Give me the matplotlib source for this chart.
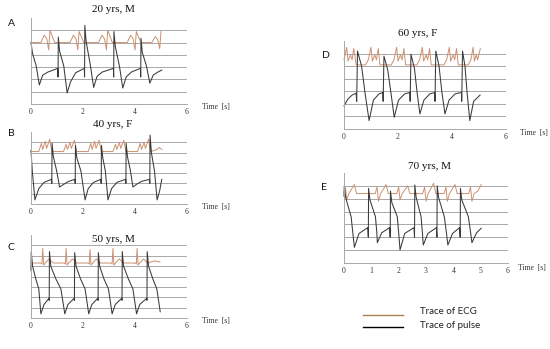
import matplotlib.pyplot as plt

# ---- data (time in s, amplitude in grid units) ----

# A: 20 yrs, M
a_ecg_t = [0.00, 0.38, 0.51, 0.61, 0.68, 0.73, 0.91,
           1.50, 1.63, 1.73, 1.80, 1.85, 2.03,
           2.60, 2.73, 2.83, 2.90, 2.95, 3.13,
           3.70, 3.83, 3.93, 4.00, 4.05, 4.23,
           4.65, 4.78, 4.88, 4.95, 5.00]
a_ecg_y = [5.00, 5.00, 5.60, 5.30, 4.40, 6.00, 5.00,
           5.00, 5.60, 5.30, 4.40, 5.90, 5.00,
           5.00, 5.60, 5.30, 4.40, 6.00, 5.00,
           5.00, 5.60, 5.30, 4.40, 5.90, 5.00,
           5.00, 5.50, 5.20, 4.50, 5.90]
a_pulse_t = [0.00, 0.06, 0.20, 0.32, 0.45, 0.65, 1.03,
             1.04, 1.05, 1.10, 1.26, 1.39, 1.52, 1.72, 2.05,
             2.06, 2.07, 2.12, 2.28, 2.41, 2.54, 2.74, 3.17,
             3.18, 3.19, 3.24, 3.40, 3.53, 3.66, 3.86, 4.21,
             4.22, 4.23, 4.28, 4.44, 4.57, 4.70, 4.88, 5.03]
a_pulse_y = [5.00, 4.10, 3.10, 1.55, 2.35, 2.60, 2.90,
             2.20, 5.45, 4.30, 3.10, 0.90, 1.80, 2.55, 2.90,
             2.20, 6.40, 5.10, 3.20, 1.35, 2.25, 2.60, 2.90,
             2.20, 5.90, 4.70, 3.10, 1.30, 2.20, 2.60, 2.90,
             2.20, 5.35, 4.20, 3.10, 1.70, 2.35, 2.60, 2.76]

# B: 40 yrs, F
b_ecg_t = [0.00, 0.30, 0.40, 0.45, 0.55, 0.60, 0.72, 0.80,
           1.25, 1.35, 1.40, 1.50, 1.55, 1.67, 1.75,
           2.20, 2.30, 2.35, 2.45, 2.50, 2.62, 2.70,
           3.15, 3.25, 3.30, 3.40, 3.45, 3.57, 3.65,
           4.10, 4.20, 4.25, 4.35, 4.40, 4.52, 4.60,
           4.85, 4.92, 5.04]
b_ecg_y = [5.10, 5.10, 5.90, 5.30, 6.10, 5.40, 6.30, 5.10,
           5.10, 5.80, 5.30, 6.00, 5.40, 6.20, 5.10,
           5.10, 5.90, 5.30, 6.10, 5.40, 6.20, 5.10,
           5.10, 5.80, 5.30, 6.00, 5.40, 6.20, 5.10,
           5.10, 5.90, 5.30, 6.00, 5.40, 6.30, 5.10,
           5.30, 5.50, 5.30]
b_pulse_t = [0.00, 0.05, 0.15, 0.30, 0.50, 0.79,
             0.80, 0.81, 0.86, 0.98, 1.10, 1.25, 1.45, 1.69,
             1.70, 1.71, 1.76, 1.92, 2.08, 2.20, 2.40, 2.69,
             2.70, 2.71, 2.76, 2.86, 2.96, 3.10, 3.30, 3.64,
             3.65, 3.66, 3.71, 3.82, 3.92, 4.05, 4.25, 4.56,
             4.57, 4.58, 4.63, 4.75, 4.85, 4.95, 5.03]
b_pulse_y = [5.20, 3.20, 0.40, 1.50, 2.10, 2.40,
             2.00, 5.90, 4.60, 3.30, 1.65, 1.90, 2.20, 2.40,
             2.00, 5.70, 4.50, 3.20, 0.40, 1.50, 2.10, 2.40,
             2.00, 5.70, 4.50, 3.20, 0.40, 1.50, 2.10, 2.40,
             2.00, 5.90, 4.60, 3.30, 1.65, 1.90, 2.20, 2.40,
             2.00, 6.70, 5.00, 3.20, 0.40, 1.30, 2.40]

# C: 50 yrs, M
c_ecg_t = [0.00, 0.37, 0.42, 0.45, 0.49, 0.55, 0.70, 0.85,
           1.27, 1.32, 1.35, 1.39, 1.45, 1.60, 1.75,
           2.19, 2.24, 2.27, 2.31, 2.37, 2.52, 2.67,
           3.07, 3.12, 3.15, 3.19, 3.25, 3.40, 3.55,
           4.00, 4.05, 4.08, 4.12, 4.18, 4.33, 4.48,
           4.75, 4.96]
c_ecg_y = [5.30, 5.30, 5.20, 6.70, 5.10, 5.30, 5.70, 5.30,
           5.30, 5.20, 6.70, 5.10, 5.30, 5.70, 5.30,
           5.30, 5.20, 6.60, 5.10, 5.30, 5.70, 5.30,
           5.30, 5.20, 6.70, 5.10, 5.30, 5.70, 5.30,
           5.30, 5.20, 6.70, 5.10, 5.30, 5.70, 5.30,
           5.50, 5.40]
c_pulse_t = [0.00, 0.01, 0.06, 0.18, 0.30, 0.38, 0.50, 0.69,
             0.70, 0.71, 0.76, 0.95, 1.15, 1.30, 1.42, 1.66,
             1.67, 1.68, 1.73, 1.90, 2.08, 2.22, 2.34, 2.57,
             2.58, 2.59, 2.64, 2.80, 2.98, 3.12, 3.24, 3.49,
             3.50, 3.51, 3.56, 3.74, 3.92, 4.06, 4.18, 4.45,
             4.46, 4.47, 4.52, 4.68, 4.84, 4.97]
c_pulse_y = [4.60, 6.40, 5.00, 3.80, 2.80, 0.40, 1.30, 1.90,
             1.70, 6.40, 5.00, 3.80, 2.80, 0.40, 1.30, 1.90,
             1.70, 6.30, 5.00, 3.80, 2.80, 0.40, 1.30, 1.90,
             1.70, 6.30, 5.00, 3.80, 2.80, 0.40, 1.30, 1.90,
             1.70, 6.40, 5.00, 3.80, 2.80, 0.40, 1.30, 1.90,
             1.70, 6.40, 5.00, 3.80, 2.80, 0.60]

# D: 60 yrs, F
d_ecg_t = [0.00, 0.10, 0.15, 0.24, 0.30, 0.36, 0.45, 0.80,
           0.90, 1.00, 1.05, 1.14, 1.20, 1.27, 1.33, 1.75,
           1.85, 1.95, 2.00, 2.09, 2.15, 2.22, 2.28, 2.70,
           2.80, 2.90, 2.95, 3.04, 3.10, 3.17, 3.23, 3.70,
           3.80, 3.90, 3.95, 4.04, 4.10, 4.17, 4.23, 4.60,
           4.70, 4.78, 4.83, 4.90, 4.95, 5.05]
d_ecg_y = [5.50, 6.50, 5.40, 5.90, 5.50, 6.40, 5.10, 5.10,
           5.50, 6.50, 5.40, 5.90, 5.50, 6.40, 5.10, 5.10,
           5.50, 6.50, 5.40, 5.90, 5.50, 6.40, 5.10, 5.10,
           5.50, 6.50, 5.40, 5.90, 5.50, 6.40, 5.10, 5.10,
           5.50, 6.50, 5.40, 5.90, 5.50, 6.40, 5.10, 5.10,
           5.50, 6.50, 5.40, 5.90, 5.50, 6.40]
d_pulse_t = [0.00, 0.15, 0.30, 0.45, 0.47, 0.50, 0.65, 0.78, 0.93, 1.09, 1.30, 1.44,
             1.45, 1.48, 1.62, 1.74, 1.86, 2.02, 2.25, 2.44,
             2.45, 2.48, 2.61, 2.71, 2.81, 2.96, 3.18, 3.36,
             3.37, 3.40, 3.52, 3.63, 3.74, 3.89, 4.12, 4.35,
             4.36, 4.39, 4.48, 4.56, 4.66, 4.80, 5.04]
d_pulse_y = [1.84, 2.40, 2.70, 2.85, 2.20, 6.20, 5.00, 2.85, 0.67, 2.30, 2.80, 2.90,
             2.20, 5.80, 4.70, 2.85, 0.93, 2.30, 2.80, 2.90,
             2.20, 5.95, 4.80, 2.85, 1.20, 2.30, 2.80, 2.90,
             2.20, 6.20, 5.00, 2.85, 1.20, 2.30, 2.80, 2.90,
             2.20, 6.20, 5.00, 2.85, 0.67, 2.20, 2.70]

# E: 70 yrs, M
e_ecg_t = [0.00, 0.05, 0.10, 0.18, 0.38, 0.46,
           1.14, 1.21, 1.26, 1.34, 1.54, 1.62,
           1.93, 2.00, 2.05, 2.13, 2.33, 2.41,
           2.88, 2.95, 3.00, 3.08, 3.28, 3.36,
           3.66, 3.73, 3.78, 3.86, 4.06, 4.14,
           4.56, 4.63, 4.68, 4.76, 4.90, 5.02]
e_ecg_y = [5.50, 5.90, 4.90, 5.40, 6.10, 5.40,
           5.40, 5.90, 4.80, 5.40, 6.10, 5.40,
           5.40, 5.90, 4.90, 5.40, 6.00, 5.40,
           5.40, 5.90, 4.80, 5.40, 6.20, 5.40,
           5.40, 5.90, 4.80, 5.40, 6.10, 5.40,
           5.40, 5.90, 4.80, 5.40, 5.60, 6.10]
e_pulse_t = [0.00, 0.01, 0.06, 0.26, 0.33, 0.38, 0.55, 0.87,
             0.89, 0.90, 0.95, 1.15, 1.20, 1.22, 1.38, 1.67,
             1.69, 1.70, 1.75, 1.95, 2.01, 2.05, 2.22, 2.56,
             2.58, 2.59, 2.64, 2.82, 2.87, 2.90, 3.07, 3.38,
             3.40, 3.41, 3.46, 3.67, 3.75, 3.80, 3.97, 4.23,
             4.25, 4.26, 4.31, 4.55, 4.63, 4.68, 4.85, 5.02]
e_pulse_y = [5.20, 6.00, 5.10, 3.60, 2.20, 1.22, 2.30, 2.75,
             2.00, 5.80, 4.90, 3.60, 2.40, 1.58, 2.35, 2.75,
             2.00, 5.60, 4.70, 3.60, 2.10, 1.01, 2.30, 2.75,
             2.00, 6.07, 5.10, 3.60, 2.30, 1.40, 2.30, 2.75,
             2.00, 6.00, 5.10, 3.60, 2.30, 1.40, 2.30, 2.75,
             2.00, 5.80, 4.90, 3.60, 2.40, 1.58, 2.35, 2.70]

titles = ['20 yrs, M', '40 yrs, F', '50 yrs, M', '60 yrs, F', '70 yrs, M']
letters = ['A', 'B', 'C', 'D', 'E']
legend_labels = ['Trace of ECG', 'Trace of pulse']

ECG_COLOR = '#cc9170'
PULSE_COLOR = '#3a3a3a'
GRID_COLOR = '#a8a8a8'
SERIF = 'Liberation Serif'
SANS = 'Lato'

W, H = 550, 349
fig = plt.figure(figsize=(5.5, 3.49), dpi=100)


def fx(x):
    return x / W


def fy(y):
    return 1 - y / H


# panel boxes in pixels: left, top, right, bottom
panels = [
    dict(box=(31, 18, 187, 104), ymax=7, xt=[0, 2, 4, 6], ecg=(a_ecg_t, a_ecg_y),
         pulse=(a_pulse_t, a_pulse_y), title_xy=(113, 10), letter_xy=(8, 23), time_xy=(202, 107)),
    dict(box=(31, 132, 187, 204), ymax=7, xt=[0, 2, 4, 6], ecg=(b_ecg_t, b_ecg_y),
         pulse=(b_pulse_t, b_pulse_y), title_xy=(113, 125), letter_xy=(8, 133), time_xy=(202, 207)),
    dict(box=(31, 235, 187, 318), ymax=8, xt=[0, 2, 4, 6], ecg=(c_ecg_t, c_ecg_y),
         pulse=(c_pulse_t, c_pulse_y), title_xy=(113, 239), letter_xy=(8, 248), time_xy=(202, 321)),
    dict(box=(344, 41, 506, 129), ymax=7, xt=[0, 2, 4, 6], ecg=(d_ecg_t, d_ecg_y),
         pulse=(d_pulse_t, d_pulse_y), title_xy=(418, 34), letter_xy=(322, 55), time_xy=(520, 133)),
    dict(box=(344, 173, 508, 263), ymax=7, xt=[0, 1, 2, 3, 4, 5, 6], ecg=(e_ecg_t, e_ecg_y),
         pulse=(e_pulse_t, e_pulse_y), title_xy=(430, 167), letter_xy=(321, 187), time_xy=(518, 268)),
]

for p, title, letter in zip(panels, titles, letters):
    l, t, r, b = p['box']
    ax = fig.add_axes([fx(l), fy(b), (r - l) / W, (b - t) / H])
    ax.set_xlim(0, 6)
    ax.set_ylim(0, p['ymax'])
    ax.set_yticks(range(1, p['ymax']))
    ax.yaxis.grid(True, color=GRID_COLOR, lw=0.7)
    ax.set_axisbelow(True)
    ax.tick_params(axis='y', length=0, labelleft=False)
    ax.set_xticks(p['xt'])
    ax.set_xticklabels([str(v) for v in p['xt']], fontfamily=SERIF, fontsize=5.5, color='#333333')
    ax.tick_params(axis='x', length=0, pad=3)
    for side in ['top', 'right']:
        ax.spines[side].set_visible(False)
    for side in ['left', 'bottom']:
        ax.spines[side].set_color(GRID_COLOR)
        ax.spines[side].set_linewidth(0.7)
    ax.patch.set_alpha(0)

    ax.plot(*p['ecg'], color=ECG_COLOR, lw=0.7, clip_on=False)
    ax.plot(*p['pulse'], color=PULSE_COLOR, lw=0.75, clip_on=False)

    fig.text(fx(p['title_xy'][0]), fy(p['title_xy'][1]), title, family=SERIF,
             fontsize=8, ha='center', va='center', color='#111111')
    fig.text(fx(p['letter_xy'][0]), fy(p['letter_xy'][1]), letter, family=SANS,
             fontsize=7.5, ha='left', va='center', color='#111111')
    fig.text(fx(p['time_xy'][0]), fy(p['time_xy'][1]), 'Time  [s]', family=SERIF,
             fontsize=5.5, ha='left', va='center', color='#333333')

# legend drawn by hand
fig.add_artist(plt.Line2D([fx(363), fx(403)], [fy(315), fy(315)], color='#a8804e', lw=1.0))
fig.add_artist(plt.Line2D([fx(363), fx(403)], [fy(327), fy(327)], color='black', lw=1.0))
fig.text(fx(420), fy(311), legend_labels[0], family=SANS, fontsize=7, va='center', color='#222222')
fig.text(fx(420), fy(326), legend_labels[1], family=SANS, fontsize=7, va='center', color='#222222')

fig.savefig('out.png', dpi=100)
